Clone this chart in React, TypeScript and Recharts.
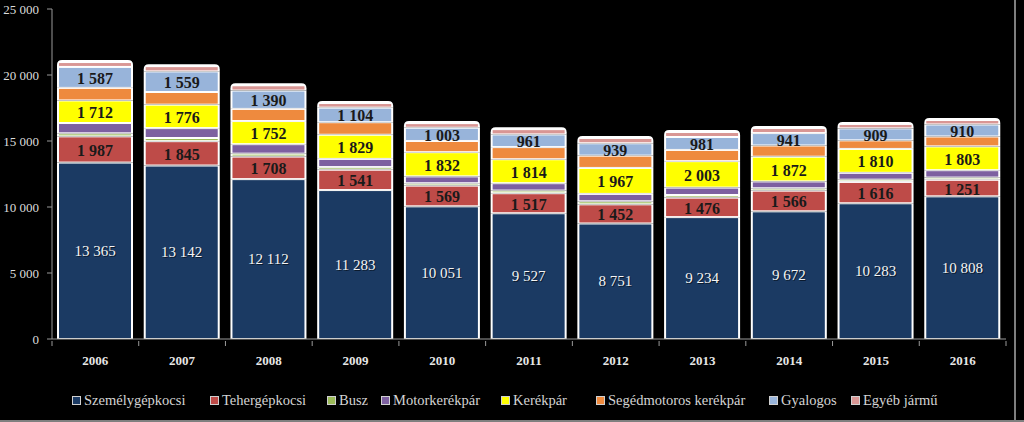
import React from 'react';
import { BarChart, Bar, XAxis, YAxis, Legend, LabelList } from 'recharts';

const years = ['2006', '2007', '2008', '2009', '2010', '2011', '2012', '2013', '2014', '2015', '2016'];
const szemely = [13365, 13142, 12112, 11283, 10051, 9527, 8751, 9234, 9672, 10283, 10808];
const teher = [1987, 1845, 1708, 1541, 1569, 1517, 1452, 1476, 1566, 1616, 1251];
const busz = [230, 240, 220, 200, 180, 200, 230, 200, 180, 170, 170];
const motor = [780, 750, 720, 620, 520, 560, 560, 560, 520, 520, 560];
const kerekpar = [1712, 1776, 1752, 1829, 1832, 1814, 1967, 2003, 1872, 1810, 1803];
const seged = [950, 960, 920, 950, 850, 920, 930, 850, 850, 650, 750];
const gyalogos = [1587, 1559, 1390, 1104, 1003, 961, 939, 981, 941, 909, 910];
const egyeb = [370, 400, 400, 350, 350, 400, 400, 376, 384, 332, 338];
const yTicks = [0, 5000, 10000, 15000, 20000, 25000];

const seriesDefs = [
  { key: 'szemely', name: 'Személygépkocsi', color: '#1B3A63', label: 'light' },
  { key: 'teher', name: 'Tehergépkocsi', color: '#BE4B48', label: 'dark' },
  { key: 'busz', name: 'Busz', color: '#9BBB59', label: '' },
  { key: 'motor', name: 'Motorkerékpár', color: '#7D60A0', label: '' },
  { key: 'kerekpar', name: 'Kerékpár', color: '#FFFF00', label: 'dark' },
  { key: 'seged', name: 'Segédmotoros kerékpár', color: '#EE8A3E', label: '' },
  { key: 'gyalogos', name: 'Gyalogos', color: '#98B4DA', label: 'dark' },
  { key: 'egyeb', name: 'Egyéb jármű', color: '#D99694', label: '' },
];

const data = years.map((y, i) => ({
  year: y,
  szemely: szemely[i],
  teher: teher[i],
  busz: busz[i],
  motor: motor[i],
  kerekpar: kerekpar[i],
  seged: seged[i],
  gyalogos: gyalogos[i],
  egyeb: egyeb[i],
}));

const fmt = (n: number) => String(n).replace(/\B(?=(\d{3})+(?!\d))/g, ' ');

const SERIF = '"Liberation Serif", "DejaVu Serif", serif';
const CHART_W = 1024;
const CHART_H = 422;
const M_LEFT = 52;
const M_RIGHT = 18;
const BAND = (CHART_W - M_LEFT - M_RIGHT) / years.length;

const makeShape = (isTop: boolean) => (props: any) => {
  const { x, y, width, height, fill } = props;
  if (height == null || height <= 0) return null;
  const ox = x - 2;
  const ow = width + 4;
  const inset = 1;
  const elems: any[] = [];
  if (isTop) {
    const r = 5;
    const top = y - 2;
    const bottom = y + height;
    const d = `M${ox},${bottom} L${ox},${top + r} Q${ox},${top} ${ox + r},${top} L${ox + ow - r},${top} Q${ox + ow},${top} ${ox + ow},${top + r} L${ox + ow},${bottom} Z`;
    elems.push(<path key="o" d={d} fill="#ffffff" />);
  } else {
    elems.push(<rect key="o" x={ox} y={y} width={ow} height={height} fill="#ffffff" />);
  }
  const ih = Math.max(0, height - 2 * inset);
  elems.push(<rect key="i" x={x} y={y + inset} width={width} height={ih} fill={fill} />);
  return <g>{elems}</g>;
};

const makeLabel = (kind: string) => (props: any) => {
  const { x, y, width, height, value } = props;
  const cx = x + width / 2;
  const cy = y + height / 2;
  if (kind === 'light') {
    return (
      <g>
        <text
          x={cx + 1}
          y={cy + 1}
          textAnchor="middle"
          dominantBaseline="central"
          fontFamily={SERIF}
          fontSize={15}
          fill="#0b1a2e"
        >
          {fmt(value)}
        </text>
        <text
          x={cx}
          y={cy}
          textAnchor="middle"
          dominantBaseline="central"
          fontFamily={SERIF}
          fontSize={15}
          fill="#f4f4f4"
        >
          {fmt(value)}
        </text>
      </g>
    );
  }
  return (
    <text
      x={cx}
      y={cy + 1}
      textAnchor="middle"
      dominantBaseline="central"
      fontFamily={SERIF}
      fontSize={16}
      fontWeight="bold"
      fill="#1a1a1a"
    >
      {fmt(value)}
    </text>
  );
};

const XTick = (props: any) => {
  const { x, y, payload } = props;
  const half = BAND / 2;
  return (
    <g>
      <line x1={x + half} y1={y - 6} x2={x + half} y2={y - 1} stroke="#9a9a9a" strokeWidth={1} />
      {payload.index === 0 ? (
        <line x1={x - half} y1={y - 6} x2={x - half} y2={y - 1} stroke="#9a9a9a" strokeWidth={1} />
      ) : null}
      <text
        x={x}
        y={y + 13}
        textAnchor="middle"
        dominantBaseline="central"
        fontFamily={SERIF}
        fontSize={13}
        fontWeight="bold"
        fill="#e6e6e6"
      >
        {payload.value}
      </text>
    </g>
  );
};

const legendX = [76, 214, 331, 385, 505, 600, 773, 855];

const LegendContent = () => (
  <div style={{ position: 'relative', width: CHART_W, height: 53 }}>
    {seriesDefs.map((s, i) => (
      <div
        key={s.key}
        style={{
          position: 'absolute',
          left: legendX[i] - 4,
          top: 23,
          display: 'flex',
          alignItems: 'center',
          whiteSpace: 'nowrap',
        }}
      >
        <span
          style={{
            display: 'inline-block',
            width: 7,
            height: 7,
            background: s.color,
            border: '1px solid #d0d0d0',
            marginRight: 3,
          }}
        />
        <span style={{ fontFamily: SERIF, fontSize: 14.5, color: '#d4d4d4', lineHeight: '16px' }}>{s.name}</span>
      </div>
    ))}
  </div>
);

export default function App() {
  return (
    <div style={{ position: 'absolute', left: 0, top: 0, width: CHART_W, height: CHART_H, background: '#000000' }}>
      <BarChart
        width={CHART_W}
        height={CHART_H}
        data={data}
        margin={{ top: 9, right: M_RIGHT, bottom: 0, left: 0 }}
        barSize={72}
      >
        <XAxis
          dataKey="year"
          height={30}
          axisLine={{ stroke: '#9a9a9a', strokeWidth: 1 }}
          tickLine={false}
          tick={<XTick />}
          interval={0}
        />
        <YAxis
          width={M_LEFT}
          domain={[0, 25000]}
          ticks={yTicks}
          interval={0}
          tickFormatter={fmt}
          axisLine={{ stroke: '#9a9a9a', strokeWidth: 1 }}
          tickLine={{ stroke: '#9a9a9a' }}
          tickSize={5}
          tickMargin={8}
          tick={{ fontFamily: SERIF, fontSize: 13, fill: '#dcdcdc' }}
        />
        <Legend
          verticalAlign="bottom"
          content={<LegendContent />}
          wrapperStyle={{ left: 0, width: CHART_W, height: 53 }}
        />
        {seriesDefs.map((s, i) => (
          <Bar
            key={s.key}
            dataKey={s.key}
            name={s.name}
            stackId="a"
            fill={s.color}
            isAnimationActive={false}
            shape={makeShape(i === seriesDefs.length - 1)}
          >
            {s.label ? <LabelList dataKey={s.key} content={makeLabel(s.label)} /> : null}
          </Bar>
        ))}
      </BarChart>
      <div style={{ position: 'absolute', left: 1014, top: 0, width: 2, height: CHART_H, background: '#7f7f7f' }} />
      <div style={{ position: 'absolute', left: 0, top: 420, width: CHART_W, height: 2, background: '#7f7f7f' }} />
    </div>
  );
}
